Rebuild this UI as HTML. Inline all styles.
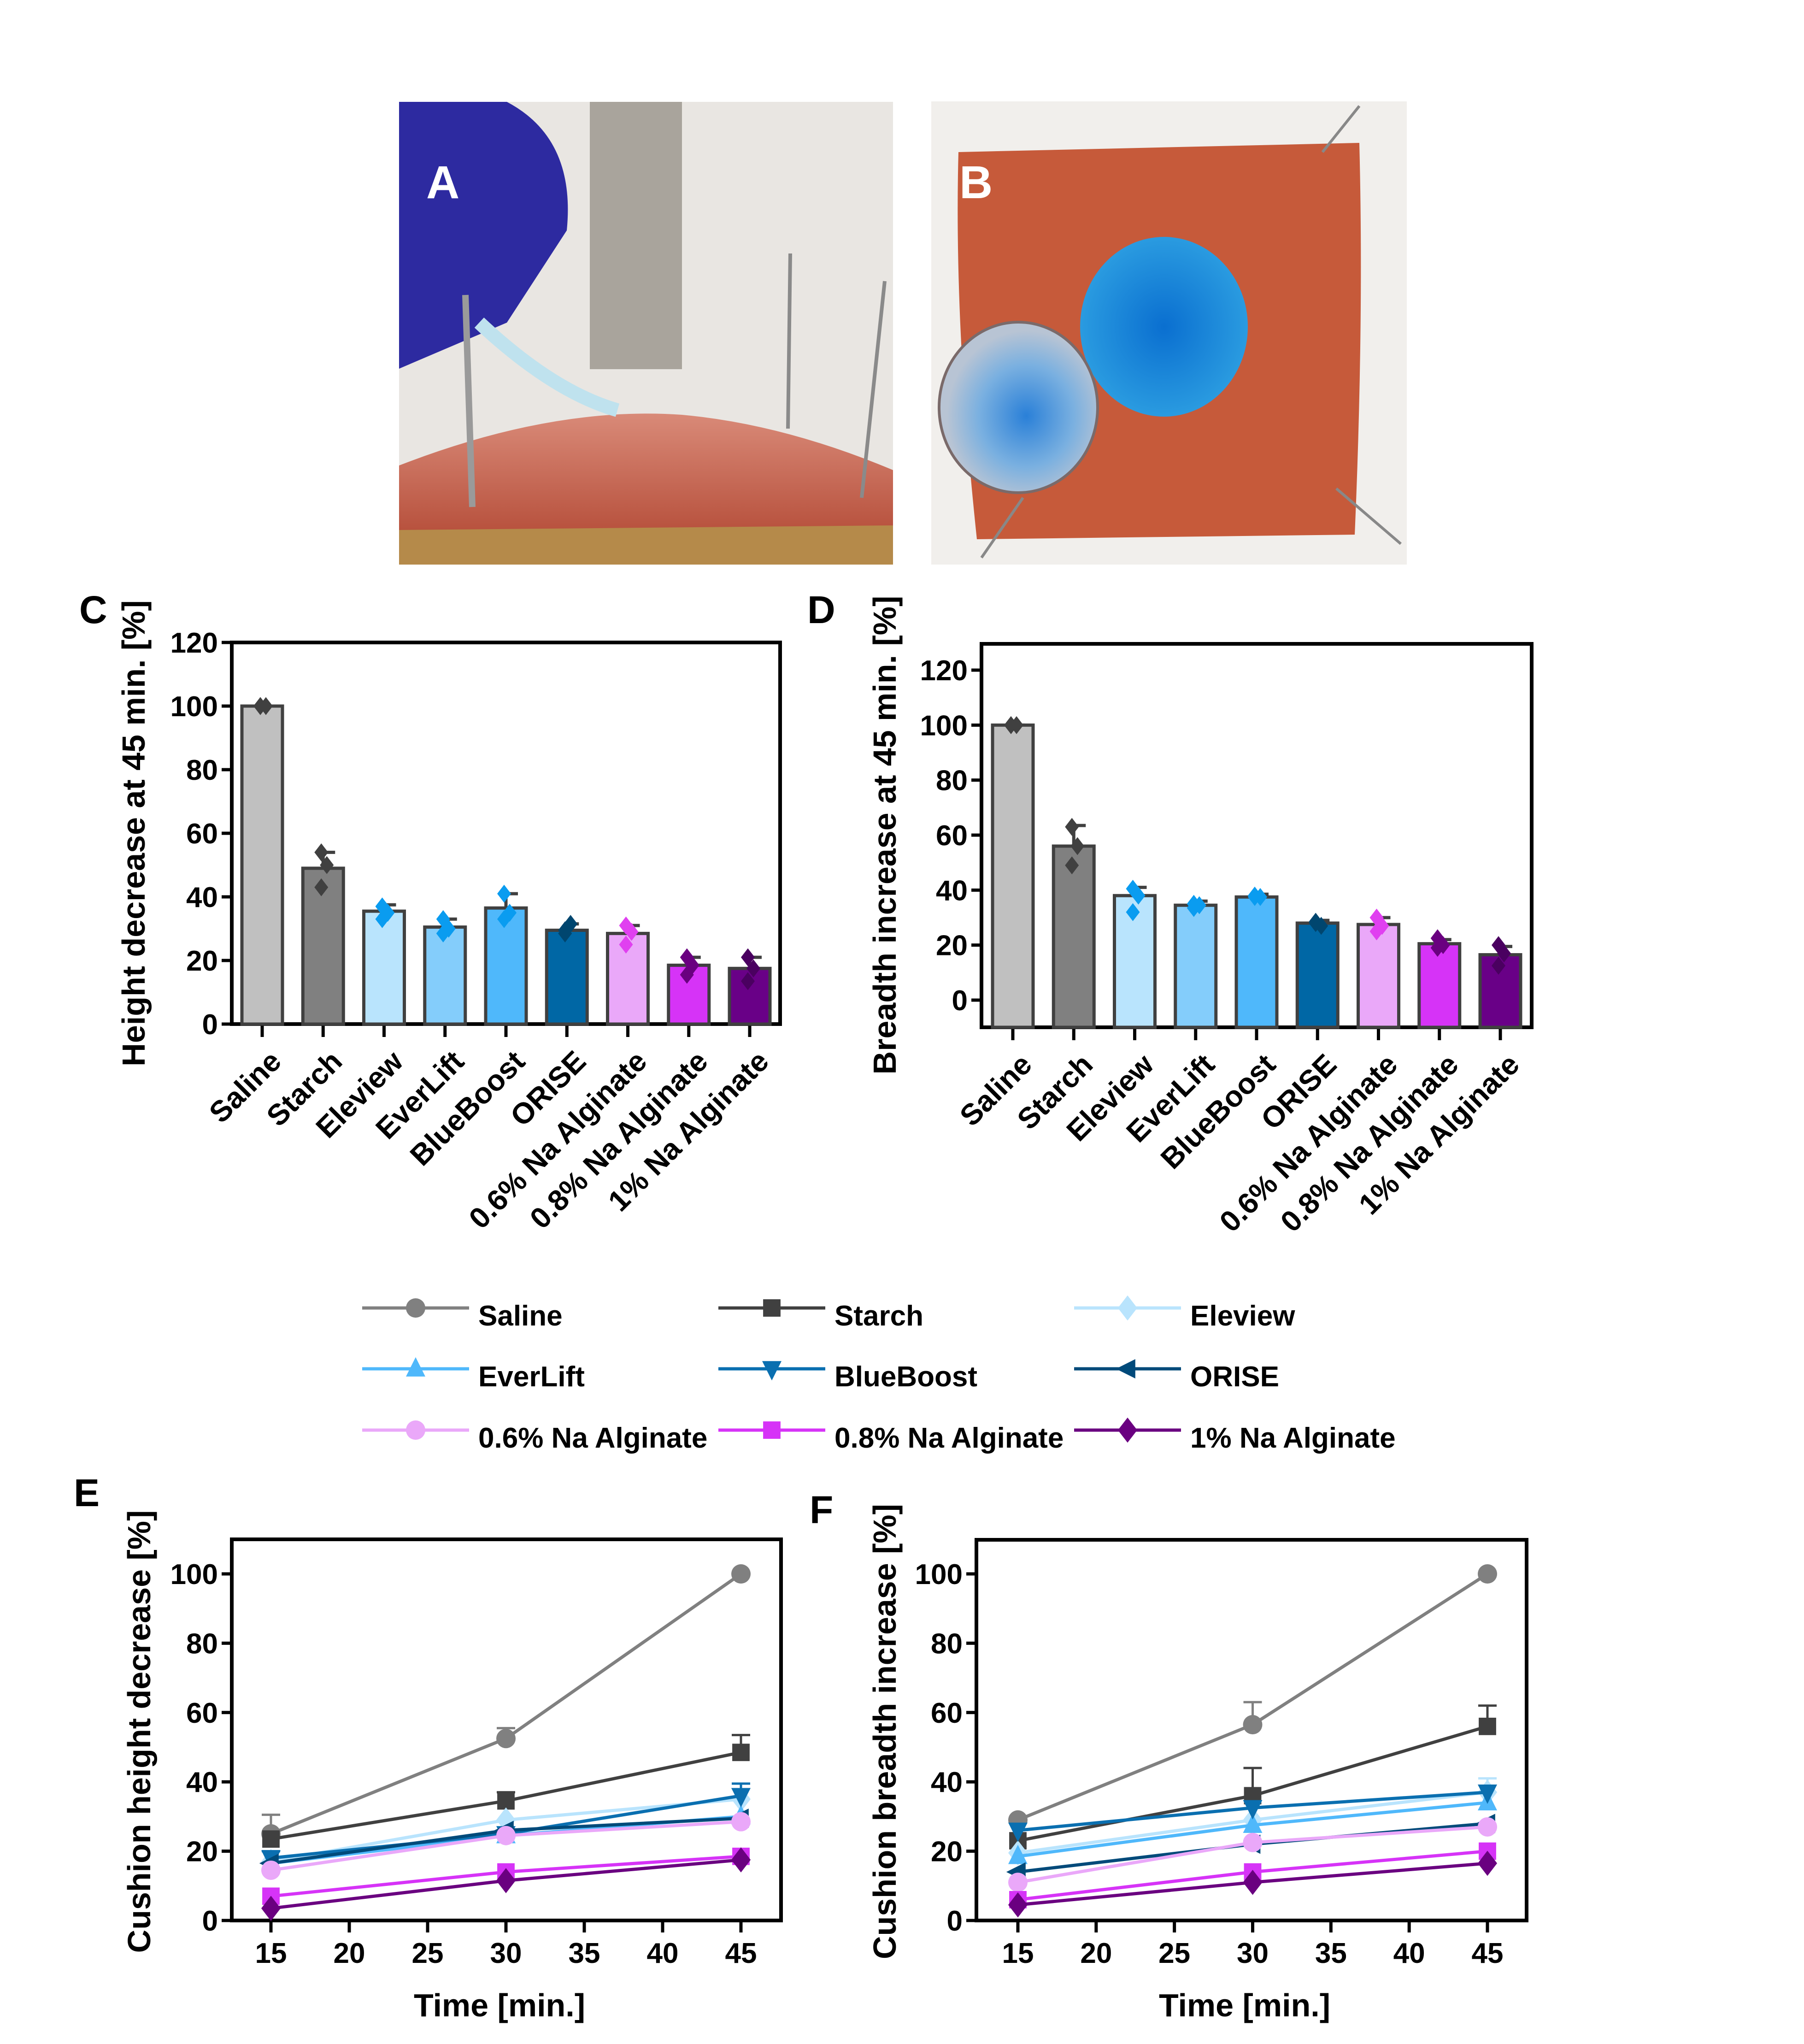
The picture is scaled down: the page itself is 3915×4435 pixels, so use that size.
<!DOCTYPE html>
<html><head><meta charset="utf-8">
<style>
html,body{margin:0;padding:0;background:#fff;}
svg{display:block;font-family:"Liberation Sans",Arial,sans-serif;font-weight:bold;}
</style></head>
<body>
<svg id="fig" width="3915" height="4435" viewBox="0 0 3915 4435" xmlns="http://www.w3.org/2000/svg">
<defs>
<linearGradient id="skinA" x1="0" y1="0" x2="0" y2="1"><stop offset="0" stop-color="#d98a78"/><stop offset="1" stop-color="#b8523e"/></linearGradient>
<radialGradient id="blueB" cx="0.5" cy="0.5" r="0.5"><stop offset="0" stop-color="#0a6fd0"/><stop offset="1" stop-color="#2a9be0"/></radialGradient>
<radialGradient id="greyB" cx="0.55" cy="0.55" r="0.5"><stop offset="0" stop-color="#2a80d8"/><stop offset="0.6" stop-color="#7ab0e0"/><stop offset="1" stop-color="#b8c4d4"/></radialGradient>
</defs>
<g>
<rect x="866" y="221" width="1072" height="1004" fill="#e9e6e2"/>
<rect x="1280" y="221" width="200" height="580" fill="#a9a49c"/>
<rect x="866" y="1130" width="1072" height="95" fill="#b58a4a"/>
<path d="M866 1010 Q1200 880 1480 900 Q1700 920 1938 1020 L1938 1140 L866 1150 Z" fill="url(#skinA)"/>
<path d="M866 221 L1100 221 Q1250 300 1230 500 L1100 700 L866 800 Z" fill="#2d2aa0"/>
<path d="M1040 700 Q1200 850 1340 890" stroke="#bfe2ee" stroke-width="30" fill="none"/>
<line x1="1010" y1="640" x2="1025" y2="1100" stroke="#9a9a9a" stroke-width="14"/>
<line x1="1715" y1="550" x2="1710" y2="930" stroke="#8a8a8a" stroke-width="8"/>
<line x1="1920" y1="610" x2="1870" y2="1080" stroke="#8a8a8a" stroke-width="8"/>
<text x="925" y="430" font-size="100" fill="#fff">A</text>
</g>
<g>
<rect x="2021" y="220" width="1032" height="1005" fill="#f1efec"/>
<path d="M2080 330 L2950 310 Q2960 700 2940 1160 L2120 1170 Q2070 700 2080 330 Z" fill="#c65a3a"/>
<ellipse cx="2526" cy="709" rx="182" ry="195" fill="url(#blueB)"/>
<ellipse cx="2210" cy="884" rx="172" ry="185" fill="url(#greyB)" stroke="#7a6a6a" stroke-width="6"/>
<line x1="2950" y1="230" x2="2870" y2="330" stroke="#888" stroke-width="6"/>
<line x1="2900" y1="1060" x2="3040" y2="1180" stroke="#888" stroke-width="6"/>
<line x1="2130" y1="1210" x2="2220" y2="1080" stroke="#888" stroke-width="6"/>
<text x="2082" y="430" font-size="100" fill="#fff">B</text>
</g>
<g id="charts"></g>
</svg>
<script>
const NS='http://www.w3.org/2000/svg';
const root=document.getElementById('charts');
function mk(tag,attrs,parent,txt){const e=document.createElementNS(NS,tag);for(const k in attrs)e.setAttribute(k,attrs[k]);if(txt!==undefined)e.textContent=txt;(parent||root).appendChild(e);return e;}

// ===== DATA =====
const categories=['Saline','Starch','Eleview','EverLift','BlueBoost','ORISE','0.6% Na Alginate','0.8% Na Alginate','1% Na Alginate'];
const barFill=['#c0c0c0','#808080','#b9e4fd','#84cdfb','#4fb8fb','#0067a5','#eaa8f9','#d633f7','#690087'];
const dotFill=['#404040','#404040','#0a9cf0','#0a9cf0','#0a9cf0','#00466f','#e040f0','#6a0080','#4a0060'];
const heightMeans=[100,49,35.5,30.5,36.5,29.5,28.5,18.5,17.5];
const heightErrTop=[100,54,37.5,33,41,31.5,31,21,21];
const heightPoints=[[100,100,100],[54,50,43],[37,35,33],[33,30,28.5],[41,35,33],[29.5,31.5,28.5],[31,29,25],[21,18.5,15.5],[21,17.5,13.5]];
const breadthMeans=[100,56,38,34.5,37.5,28,27.5,20.5,16.5];
const breadthErrTop=[100,63.5,41,36,38.5,29,30,22,19.5];
const breadthPoints=[[100,100,100],[63,56,49],[40.5,38,32],[35,34.5,33.5],[38,37.5,37.5],[28.5,27,28],[30,27,25],[22.5,20,19],[20,17,12.5]];
const yTicksC=[0,20,40,60,80,100,120];
const yTicksD=[0,20,40,60,80,100,120];

const times=[15,30,45];
const xTicksEF=[15,20,25,30,35,40,45];
const yTicksEF=[0,20,40,60,80,100];
const seriesNames=['Saline','Starch','Eleview','EverLift','BlueBoost','ORISE','0.6% Na Alginate','0.8% Na Alginate','1% Na Alginate'];
const seriesColors=['#808080','#404040','#b9e4fd','#4fb8fb','#0a6fb0','#004a7a','#eaa8f9','#d633f7','#6a0080'];
const seriesMarkers=['circle','square','diamond','up','down','left','circle','square','diamond'];
const heightSeries=[[25,52.5,100],[23.5,34.5,48.5],[17,29,35],[16.5,24.5,30],[18,25,36],[16.5,26,29.5],[14.5,24.5,28.5],[7,14,18.5],[3.5,11.5,17.5]];
const heightSeriesErr=[[30.5,55.5,100],[23.5,37,53.5],[17,29,35],[16.5,24.5,30],[20,25,39.5],[16.5,26,29.5],[14.5,24.5,28.5],[7,14,18.5],[3.5,11.5,17.5]];
const breadthSeries=[[29,56.5,100],[23,36,56],[19.5,29,37],[18.5,27.5,34],[26,32.5,37],[14,22,28],[11,22.5,27],[6,14,20],[4.5,11,16.5]];
const breadthSeriesErr=[[29,63,100],[23,44,62],[19.5,29,41],[18.5,27.5,34],[26,32.5,37],[14,22,28],[11,22.5,27],[6,14,20],[4.5,11,16.5]];

function marker(g,type,x,y,s,color){
  let e;
  if(type==='circle')e=mk('circle',{cx:x,cy:y,r:s,fill:color},g);
  else if(type==='square')e=mk('rect',{x:x-s*0.9,y:y-s*0.9,width:s*1.8,height:s*1.8,fill:color},g);
  else if(type==='diamond')e=mk('polygon',{points:`${x},${y-s*1.3} ${x+s},${y} ${x},${y+s*1.3} ${x-s},${y}`,fill:color},g);
  else if(type==='up')e=mk('polygon',{points:`${x},${y-s*1.2} ${x+s},${y+s*0.8} ${x-s},${y+s*0.8}`,fill:color},g);
  else if(type==='down')e=mk('polygon',{points:`${x},${y+s*1.2} ${x+s},${y-s*0.8} ${x-s},${y-s*0.8}`,fill:color},g);
  else e=mk('polygon',{points:`${x-s*1.2},${y} ${x+s*0.8},${y-s} ${x+s*0.8},${y+s}`,fill:color},g);
  return e;
}

function barChart(cfg){
  const g=mk('g',{});
  
  
  const y=v=>cfg.y0-(v-0)*(cfg.y0-cfg.y120)/120;
  const x=i=>cfg.c0+i*(cfg.c8-cfg.c0)/8;
  const fr=mk('rect',{x:cfg.L,y:cfg.T,width:cfg.R-cfg.L,height:cfg.B-cfg.T,fill:'none',stroke:'#000','stroke-width':8},g);
  
  
  cfg.ticks.forEach(t=>{
    mk('line',{x1:cfg.L-22,x2:cfg.L,y1:y(t),y2:y(t),stroke:'#000','stroke-width':7},g);
    const tl=mk('text',{x:cfg.L-30,y:y(t)+22,'font-size':62,'text-anchor':'end'},g,String(t));
    
    
  });
  cfg.means.forEach((m,i)=>{
    const cx=x(i),bw=88;
    mk('line',{x1:cx,x2:cx,y1:cfg.B,y2:cfg.B+28,stroke:'#000','stroke-width':7},g);
    mk('line',{x1:cx,x2:cx+26,y1:y(cfg.err[i]),y2:y(cfg.err[i]),stroke:'#404040','stroke-width':7},g);
    mk('line',{x1:cx,x2:cx,y1:y(cfg.err[i]),y2:y(m),stroke:'#404040','stroke-width':7},g);
    const b=mk('rect',{x:cx-bw/2,y:y(m),width:bw,height:y(0)-y(m)+(cfg.B-y(0)),fill:barFill[i],stroke:'#404040','stroke-width':7},g);
    
    
    cfg.pts[i].forEach((p,k)=>{
      const d=marker(g,'diamond',cx+(k===1?8:-4),y(p),15,dotFill[i]);
      
      
    });
    const ax=cx+45, ay=cfg.B+85;
    const lab=mk('text',{x:ax,y:ay,'font-size':64,'text-anchor':'end',transform:`rotate(-45 ${ax} ${ay})`},g,categories[i]);
    
    
  });
  const tt=mk('text',{x:cfg.titleX,y:cfg.titleY,'font-size':70,'text-anchor':'middle',transform:`rotate(-90 ${cfg.titleX} ${cfg.titleY})`},g,cfg.title);
  
  
  const pl=mk('text',{x:cfg.px,y:cfg.py,'font-size':84},g,cfg.letter);
  
  
}

barChart({name:'chart-c-height-decrease',L:503,R:1693,T:1394,B:2222,y0:2222,y120:1394,c0:569,c8:1627,means:heightMeans,err:heightErrTop,pts:heightPoints,ticks:yTicksC,title:'Height decrease at 45 min. [%]',titleX:314,titleY:1808,letter:'C',px:172,py:1352});
barChart({name:'chart-d-breadth-increase',L:2130,R:3324,T:1397,B:2229,y0:2170,y120:1454,c0:2198,c8:3256,means:breadthMeans,err:breadthErrTop,pts:breadthPoints,ticks:yTicksD,title:'Breadth increase at 45 min. [%]',titleX:1944,titleY:1812,letter:'D',px:1752,py:1352});

function lineChart(cfg){
  const g=mk('g',{});
  
  
  const y=v=>cfg.y0-v*(cfg.y0-cfg.y100)/100;
  const x=t=>cfg.x15+(t-15)*(cfg.x45-cfg.x15)/30;
  const fr=mk('rect',{x:cfg.L,y:cfg.T,width:cfg.R-cfg.L,height:cfg.B-cfg.T,fill:'none',stroke:'#000','stroke-width':8},g);
  
  
  yTicksEF.forEach(t=>{
    mk('line',{x1:cfg.L-22,x2:cfg.L,y1:y(t),y2:y(t),stroke:'#000','stroke-width':7},g);
    const tl=mk('text',{x:cfg.L-30,y:y(t)+22,'font-size':62,'text-anchor':'end'},g,String(t));
    
    
  });
  xTicksEF.forEach(t=>{
    mk('line',{x1:x(t),x2:x(t),y1:cfg.B,y2:cfg.B+26,stroke:'#000','stroke-width':7},g);
    const tl=mk('text',{x:x(t),y:cfg.B+92,'font-size':62,'text-anchor':'middle'},g,String(t));
    
    
  });
  cfg.data.forEach((s,i)=>{
    const sg=mk('g',{},g);
    
    
    cfg.err[i].forEach((e,k)=>{
      if(e>s[k]+0.5){
        mk('line',{x1:x(times[k]),x2:x(times[k]),y1:y(e),y2:y(s[k]),stroke:seriesColors[i],'stroke-width':5},sg);
        mk('line',{x1:x(times[k])-20,x2:x(times[k])+20,y1:y(e),y2:y(e),stroke:seriesColors[i],'stroke-width':5},sg);
      }
    });
    mk('polyline',{points:s.map((v,k)=>x(times[k])+','+y(v)).join(' '),fill:'none',stroke:seriesColors[i],'stroke-width':7},sg);
    s.forEach((v,k)=>marker(sg,seriesMarkers[i],x(times[k]),y(v),21,seriesColors[i]));
  });
  const tt=mk('text',{x:cfg.titleX,y:cfg.titleY,'font-size':70,'text-anchor':'middle',transform:`rotate(-90 ${cfg.titleX} ${cfg.titleY})`},g,cfg.title);
  
  
  const xt=mk('text',{x:(cfg.L+cfg.R)/2-15,y:4375,'font-size':70,'text-anchor':'middle'},g,'Time [min.]');
  
  
  const pl=mk('text',{x:cfg.px,y:cfg.py,'font-size':84},g,cfg.letter);
  
  
}
lineChart({name:'chart-e-cushion-height',L:503,R:1695,T:3340,B:4167,y0:4167,y100:3415,x15:588,x45:1608,data:heightSeries,err:heightSeriesErr,title:'Cushion height decrease [%]',titleX:326,titleY:3757,letter:'E',px:160,py:3268});
lineChart({name:'chart-f-cushion-breadth',L:2119,R:3313,T:3341,B:4167,y0:4167,y100:3415,x15:2209,x45:3228,data:breadthSeries,err:breadthSeriesErr,title:'Cushion breadth increase [%]',titleX:1944,titleY:3757,letter:'F',px:1757,py:3305});

const lg=mk('g',{});


const colX=[786,1559,2331];
const rowY=[2838,2970,3103];
seriesNames.forEach((n,i)=>{
  const lx=colX[i%3],ly=rowY[Math.floor(i/3)];
  const e=mk('g',{},lg);
  
  
  mk('line',{x1:lx,x2:lx+232,y1:ly,y2:ly,stroke:seriesColors[i],'stroke-width':7},e);
  marker(e,seriesMarkers[i],lx+116,ly,21,seriesColors[i]);
  mk('text',{x:lx+252,y:ly+38,'font-size':62},e,n);
});
</script>
</body></html>
